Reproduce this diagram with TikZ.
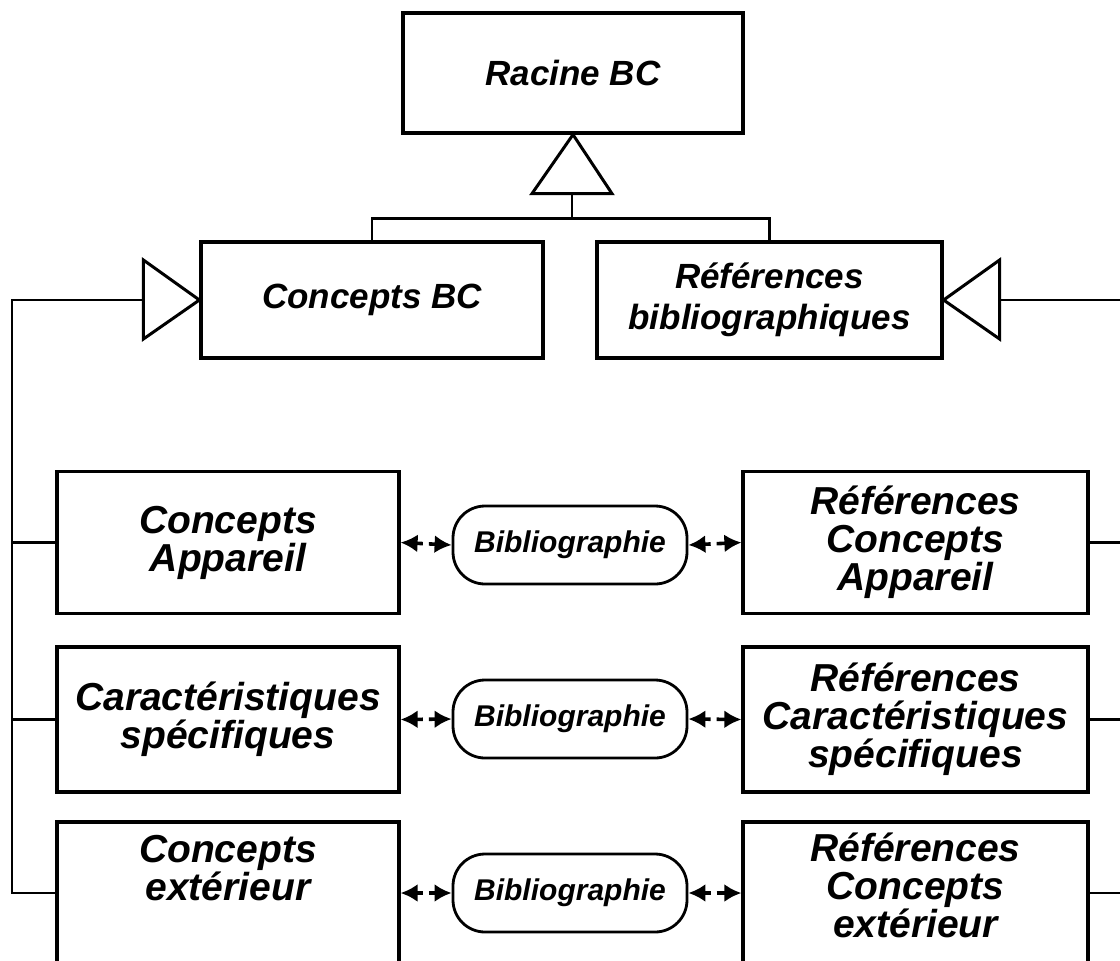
\documentclass[tikz,border=0pt]{standalone}
\usepackage{fontspec}
\setmainfont{Liberation Sans}
\usetikzlibrary{arrows.meta,calc}
\begin{document}
\begin{tikzpicture}[x=0.5pt,y=-0.5pt,
  box/.style={draw,line width=1.6pt,fill=white,inner sep=0pt,align=center,
    font=\fontsize{17.5}{20.5}\selectfont\bfseries\itshape},
  rowfont/.style={align=center,inner sep=0pt,font=\fontsize{19.5}{19}\selectfont\bfseries\itshape},
  rowbox/.style={box,minimum height=71pt,rowfont},
  leftbox/.style={rowbox,minimum width=171pt},
  rightbox/.style={rowbox,minimum width=172.5pt},
  pill/.style={draw,line width=1.4pt,rounded corners=16pt,minimum width=117pt,
    minimum height=39pt,inner sep=0pt,font=\fontsize{15}{17}\selectfont\bfseries\itshape},
  link/.style={line width=1.3pt},
  gen/.style={draw,line width=1.5pt,fill=white,line join=miter},
  tip/.style={Latex[length=8.5pt,width=9pt]},
  dlink/.style={line width=1.8pt,{Latex[length=8.5pt,width=9pt]}-{Latex[length=8.5pt,width=9pt]},
    dash pattern=on 3.5pt off 3pt on 30pt}
]
\useasboundingbox (0,0) rectangle (1120,960);

% root and the two main classes
\node[box,minimum width=170pt,minimum height=60pt] (root) at (573,73) {Racine BC};
\node[box,minimum width=171pt,minimum height=58pt] (cbc) at (372,300) {Concepts BC};
\node[box,minimum width=172.5pt,minimum height=58pt] (ref) at (769.5,300) {Références\\bibliographiques};

% generalisation from the two classes to the root
\coordinate (tbase) at ($(root.south)+(-1,59)$);
\coordinate (tbus) at ($(tbase)+(0,25)$);
\draw[link] (tbase) -- (tbus);
\draw[link] (cbc.north) |- (tbus) -| (ref.north);
\draw[gen] (root.south) -- ($(root.south)+(-41,59)$) -- ($(root.south)+(39,59)$) -- cycle;

% concept rows, bibliography links and reference rows
\node[leftbox] (l1) at (228,542.5) {Concepts\\Appareil};
\node[leftbox,minimum height=72.5pt] (l2) at (228,719.5) {Caractéristiques\\spécifiques};
\node[leftbox] (l3) at (228,893) {};
\node[rowfont] (l3t) at (228,868) {Concepts\\extérieur};
\node[rightbox] (r1) at (915.5,542.5) {Références\\Concepts\\Appareil};
\node[rightbox,minimum height=72.5pt] (r2) at (915.5,719.5) {Références\\Caractéristiques\\spécifiques};
\node[rightbox] (r3) at (915.5,893) {};
\node[rowfont] (r3t) at (915.5,885) {Références\\Concepts\\extérieur};

\node[pill] (p1) at (570,545) {Bibliographie};
\node[pill] (p2) at (570,719) {Bibliographie};
\node[pill] (p3) at (570,893) {Bibliographie};

\foreach \i in {1,2,3}{
  \draw[dlink] (l\i.east) -- (p\i.west);
  \draw[dlink] (p\i.east) -- (r\i.west);
}

% left hierarchy: concept rows specialise Concepts BC
\coordinate (lbase) at ($(cbc.west)+(-56,0)$);
\coordinate (lbus) at (12,300);
\draw[link] (lbase) -- (lbus) |- (l3.west);
\draw[link] (lbus |- l1.west) -- (l1.west);
\draw[link] (lbus |- l2.west) -- (l2.west);
\draw[gen] (cbc.west) -- ($(cbc.west)+(-56,-40)$) -- ($(cbc.west)+(-56,39)$) -- cycle;

% right hierarchy: reference rows specialise the bibliography class
\coordinate (rbase) at ($(ref.east)+(56,0)$);
\coordinate (rbus) at (1130,300);
\draw[link] (rbase) -- (rbus) |- (r3.east);
\draw[link] (rbus |- r1.east) -- (r1.east);
\draw[link] (rbus |- r2.east) -- (r2.east);
\draw[gen] (ref.east) -- ($(ref.east)+(56,-40)$) -- ($(ref.east)+(56,39)$) -- cycle;
\end{tikzpicture}
\end{document}
